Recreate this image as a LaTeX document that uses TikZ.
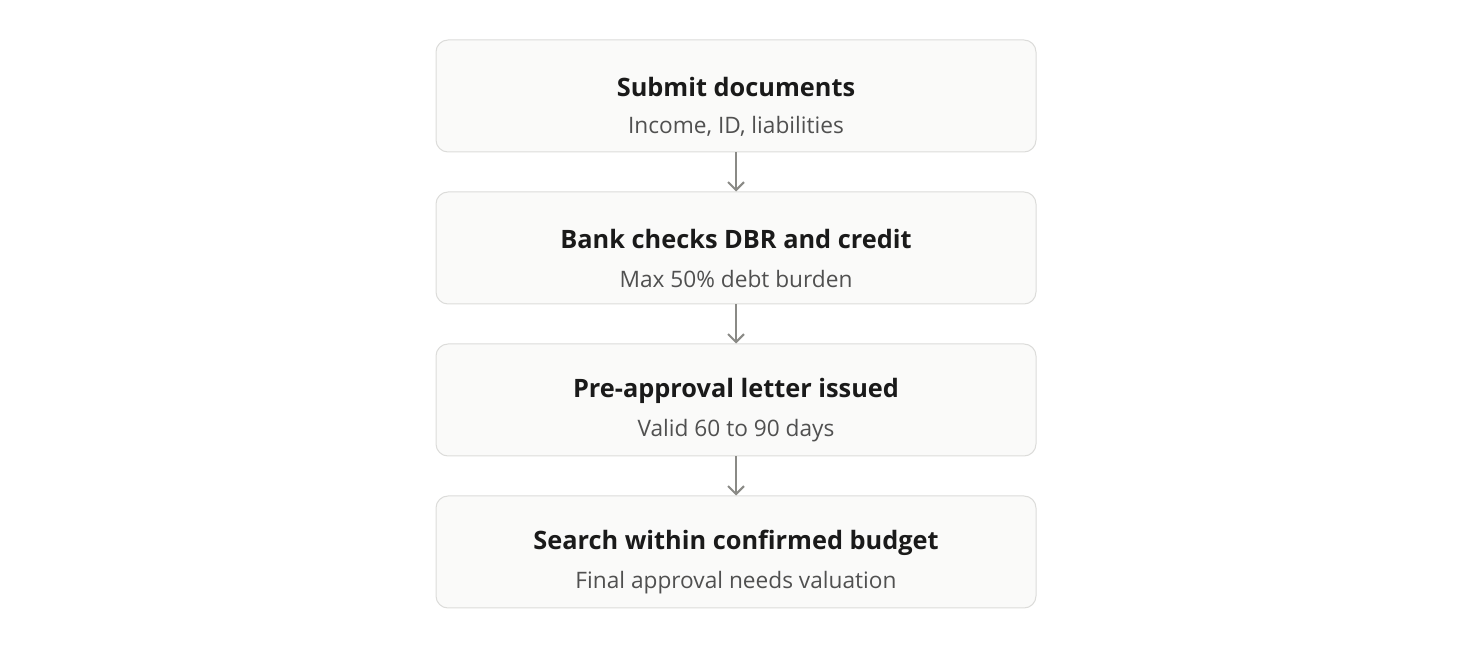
\documentclass[tikz,border=0pt]{standalone}
\usepackage{fontspec}
\setmainfont{Open Sans}
\usetikzlibrary{arrows.meta}
\definecolor{boxfill}{HTML}{FAFAF9}
\definecolor{boxline}{HTML}{DCDCDA}
\definecolor{titletext}{HTML}{1A1A1A}
\definecolor{subtext}{HTML}{505050}
\definecolor{arrowgray}{HTML}{8A8A86}
\tikzset{stepbox/.style={draw=boxline,fill=boxfill,line width=0.75pt,
                         rounded corners=9pt,minimum width=450pt,minimum height=84pt}}
\tikzset{title/.style={text=titletext,font=\fontsize{19}{23}\selectfont\bfseries}}
\tikzset{subtitle/.style={text=subtext,font=\fontsize{17}{20}\selectfont}}
\tikzset{flow/.style={draw=arrowgray,line width=1.5pt,-{Straight Barb[length=6pt,width=12pt]}}}

\begin{document}
\begin{tikzpicture}
    \useasboundingbox (0,0) rectangle (1104pt,-486pt);
    \foreach \t/\s [count=\i] in {Submit documents/{Income, ID, liabilities},
                                  Bank checks DBR and credit/Max 50\% debt burden,
                                  Pre-approval letter issued/Valid 60 to 90 days,
                                  Search within confirmed budget/Final approval needs valuation}{%
          \node[stepbox] (b\i) at (552pt,-72pt-\i*114pt+114pt) {};
          \node[title] (t\i) at ([yshift=-35.5pt]b\i.north) {\t};
          \node[subtitle] (s\i) at ([yshift=-65.5pt]b\i.north) {\s};
        }
    % arrows between steps
    \foreach \i [evaluate=\i as \j using int(\i+1)] in {1,2,3}{%
          \draw[flow] (b\i) -- (b\j);
        }
\end{tikzpicture}
\end{document}
